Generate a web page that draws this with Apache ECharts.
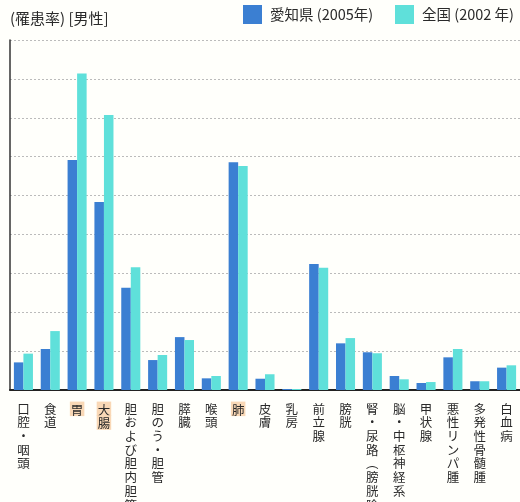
<!DOCTYPE html>
<html>
<head>
<meta charset="utf-8">
<script src="https://cdn.jsdelivr.net/npm/echarts@6/dist/echarts.min.js"></script>
<style>
  html, body { margin: 0; padding: 0; background: #fffffb; }
  #chart { width: 520px; height: 502px; }
</style>
</head>
<body>
<div id="chart"></div>
<script>
// 部位 (男性), 罹患率
const sites = ['口腔・咽頭', '食道', '胃', '大腸', '胆および胆内胆管', '胆のう・胆管', '膵臓', '喉頭', '肺', '皮膚',
  '乳房', '前立腺', '膀胱', '腎・尿路︵膀胱除く︶', '脳・中枢神経系', '甲状腺', '悪性リンパ腫', '多発性骨髄腫', '白血病']
const highlighted = ['胃', '大腸', '肺']
const aichi2005 = [14.2, 21.1, 118.3, 96.7, 52.6, 15.4, 27.2, 6.0, 117.1, 5.8,
  0.5, 64.8, 24.0, 19.4, 7.2, 3.6, 16.8, 4.5, 11.5]
const zenkoku2002 = [18.7, 30.3, 162.8, 141.4, 63.1, 18.0, 25.7, 7.2, 115.2, 8.1,
  0.5, 62.9, 26.7, 18.9, 5.5, 4.1, 21.1, 4.5, 12.7]
const yMax = 180
const yStep = 20

function legendAt(name, left) {
  return {
    data: [name],
    left: left,
    top: 5,
    padding: 0,
    icon: 'rect',
    itemWidth: 19,
    itemHeight: 19,
    textStyle: { fontSize: 14.5, color: '#2a2a2a', padding: [0, 0, 0, 3] }
  }
}

const chart = echarts.init(document.getElementById('chart'))
chart.setOption({
  animation: false,
  backgroundColor: '#fffffb',
  textStyle: { fontFamily: '"Noto Sans CJK JP", "Noto Sans", sans-serif' },
  title: {
    text: '(罹患率) [男性]',
    left: 5,
    top: 6,
    textStyle: { fontSize: 15, fontWeight: 'normal', color: '#2a2a2a' }
  },
  legend: [
    legendAt('愛知県 (2005年)', 243),
    legendAt('全国 (2002 年)', 395)
  ],
  grid: {
    left: 10,
    right: 0,
    top: 40,
    bottom: 112,
    outerBoundsMode: 'none'
  },
  xAxis: {
    type: 'category',
    data: sites,
    axisTick: { show: false },
    axisLine: { lineStyle: { color: '#222', width: 2 } },
    axisLabel: {
      interval: 0,
      margin: 12,
      verticalAlign: 'top',
      lineHeight: 13.7,
      fontSize: 12.5,
      color: '#2a2a2a',
      formatter: function (v) {
        const s = v.split('').join('\n')
        return highlighted.indexOf(v) >= 0 ? '{hl|' + s + '}' : s
      },
      rich: {
        hl: {
          backgroundColor: '#f9d8b6',
          padding: [2, 1, 0, 1],
          lineHeight: 13.7,
          fontSize: 12.5,
          color: '#2a2a2a'
        }
      }
    }
  },
  yAxis: {
    type: 'value',
    min: 0,
    max: yMax,
    interval: yStep,
    axisLabel: { show: false },
    axisTick: { show: false },
    axisLine: { show: true, lineStyle: { color: '#333', width: 1.5 } },
    splitLine: { lineStyle: { color: '#bbb', type: [2, 2], width: 1 } }
  },
  series: [
    {
      name: '愛知県 (2005年)',
      type: 'bar',
      data: aichi2005,
      barGap: '0%',
      barCategoryGap: '29%',
      itemStyle: { color: '#3b7fd2' }
    },
    {
      name: '全国 (2002 年)',
      type: 'bar',
      data: zenkoku2002,
      itemStyle: { color: '#5fe0da' }
    }
  ]
})
</script>
</body>
</html>
